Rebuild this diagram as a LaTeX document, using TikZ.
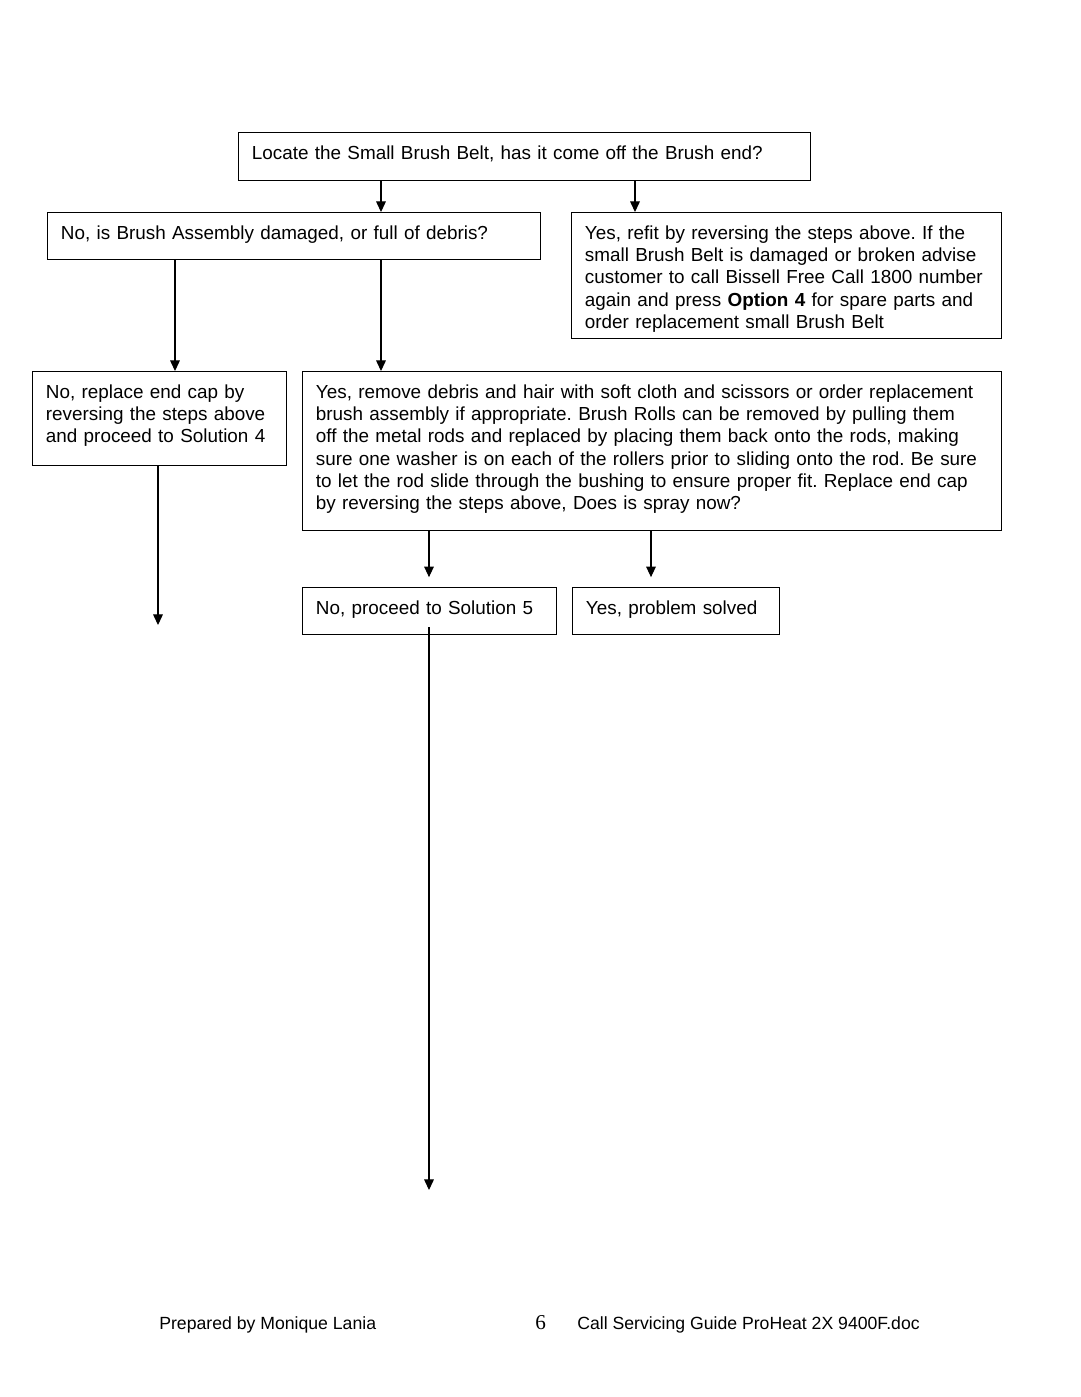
\documentclass[tikz,border=0pt]{standalone}
\usepackage{fontspec}
\setmainfont{Liberation Sans}
\newfontfamily\pagenumfont{Liberation Serif}
\usetikzlibrary{arrows.meta}
\tikzstyle{flowbox}=[draw, line width=0.8pt, anchor=north west, align=left, inner xsep=7.5pt, inner ysep=0pt, text height=15pt, font=\fontsize{10.7}{12.65}\selectfont]
\tikzstyle{flow}=[-{Triangle[length=6pt,width=5.5pt]}, line width=0.6pt]
\tikzstyle{footer}=[anchor=base west, inner sep=0pt, font=\fontsize{10}{12}\selectfont]

\begin{document}
\frenchspacing
\hyphenpenalty=10000
\begin{tikzpicture}[x=0.5667pt, y=-0.5667pt]
  \useasboundingbox (0,0) rectangle (1080,1397);

  \draw (238,132) node[flowbox, text width=309.1pt, text depth=12.2pt] (belt) {Locate the Small Brush Belt, has it come off the Brush end?};

  \draw (47,212) node[flowbox, text width=264.4pt, text depth=11.6pt] (assembly) {No, is Brush Assembly damaged, or full of debris?};
  \draw (571,212) node[flowbox, text width=228.7pt, text depth=56.4pt] (refit) {Yes, refit by reversing the steps above. If the\\ small Brush Belt is damaged or broken advise\\ customer to call Bissell Free Call 1800 number\\ again and press \textbf{Option 4} for spare parts and\\ order replacement small Brush Belt};

  \draw (32,371) node[flowbox, text width=128.9pt, text depth=38.3pt] (endcap) {No, replace end cap by\\ reversing the steps above\\ and proceed to Solution 4};
  \draw (302,371) node[flowbox, text width=381.1pt, text depth=75.1pt] (debris) {Yes, remove debris and hair with soft cloth and scissors or order replacement\\ brush assembly if appropriate. Brush Rolls can be removed by pulling them\\ off the metal rods and replaced by placing them back onto the rods, making\\ sure one washer is on each of the rollers prior to sliding onto the rod. Be sure\\ to let the rod slide through the bushing to ensure proper fit. Replace end cap\\ by reversing the steps above, Does is spray now?};

  \draw (302,587) node[flowbox, text width=128.9pt, text depth=11.6pt] (sol5) {No, proceed to Solution 5};
  \draw (572,587) node[flowbox, text width=102.3pt, text depth=11.6pt] (solved) {Yes, problem solved};

  %% loose ends
  \coordinate (endcapend) at (158,625);
  \coordinate (sol5end) at (429,1190);

  \draw[flow] (belt.south -| 381,0) -- (assembly.north -| 381,0);
  \draw[flow] (belt.south -| 635,0) -- (refit.north -| 635,0);

  \draw[flow] (assembly.south -| 175,0) -- (endcap.north -| 175,0);
  \draw[flow] (assembly.south -| 381,0) -- (debris.north -| 381,0);

  \draw[flow] (endcap.south -| endcapend) -- (endcapend);

  \draw[flow, shorten >=5.6pt] (debris.south -| 429,0) -- (sol5.north -| 429,0);
  \draw[flow, shorten >=5.6pt] (debris.south -| 651,0) -- (solved.north -| 651,0);

  \draw[flow, shorten <=-4.5pt] (sol5.south -| sol5end) -- (sol5end);

  %% Footer
  \draw (159,1329) node[footer] (prepared) {Prepared by Monique Lania};
  \draw (535,1329) node[footer, font=\pagenumfont\fontsize{12}{14}\selectfont] (pagenum) {6};
  \draw (577,1329) node[footer] (guide) {Call Servicing Guide ProHeat 2X 9400F.doc};
\end{tikzpicture}
\end{document}
